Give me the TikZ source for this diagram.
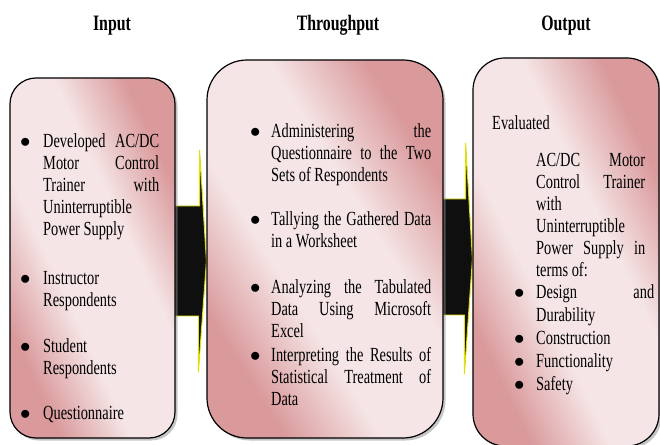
\documentclass[tikz,border=0pt]{standalone}
\usepackage{fontspec}
\setmainfont{Liberation Serif}[FakeStretch=0.72]
\usepackage{xcolor}
\usetikzlibrary{shadows,backgrounds}
\definecolor{boxlight}{RGB}{245,229,230}
\definecolor{boxdark}{RGB}{218,154,156}
\definecolor{arrowfill}{RGB}{15,15,15}
\definecolor{arrowline}{RGB}{225,225,0}
\pgfdeclareverticalshading{boxshade}{100bp}{color(0bp)=(boxdark); color(27bp)=(boxdark);
  color(41bp)=(boxlight); color(59bp)=(boxlight); color(73bp)=(boxdark); color(100bp)=(boxdark)}
\newcommand{\bitem}[1][22pt]{\hangindent=#1\noindent\makebox[#1][l]{$\bullet$}}

\begin{document}
\begin{tikzpicture}[x=1pt, y=1pt,
      box/.style={draw=black, line width=1.2pt, inner sep=0pt, shade, shading=boxshade,
        drop shadow={shadow xshift=2.5pt, shadow yshift=-2.5pt, fill=black!45}},
      head/.style={font=\fontsize{22}{24}\selectfont\bfseries, inner sep=0pt, anchor=base},
      lbl/.style={font=\fontsize{20}{22}\selectfont, inner sep=0pt, anchor=base west},
      txt/.style={font=\fontsize{20}{22}\selectfont, inner sep=0pt, anchor=base west,
        text width=#1, align=justify},
      flowarrow/.style={fill=arrowfill, draw=arrowline, line width=0.9pt, line join=miter}]
      \useasboundingbox (0,0) rectangle (660,444);

      \node[head] (inhead) at (112,413) {Input};
      \node[head] (thruhead) at (338,413) {Throughput};
      \node[head] (outhead) at (566,413) {Output};

      \node[box, shading angle=-65, minimum width=165, minimum height=360, rounded corners=26] (inbox) at (92.5,186) {};
      \node[box, shading angle=-58, minimum width=236, minimum height=378, rounded corners=40] (thrubox) at (325,195) {};
      \node[box, shading angle=-64, minimum width=186, minimum height=388, rounded corners=32] (outbox) at (566,192) {};

      \begin{scope}[on background layer]
        \draw[flowarrow] ([shift={(-1,52)}]inbox.east) -- ++(25,0) -- ++(0,56)
          -- ([yshift=-12]thrubox.west) -- ++(-8,-111) -- ++(0,56) -- ++(-25,0) -- cycle;
        \draw[flowarrow] ([shift={(-1,50)}]thrubox.east) -- ++(23,0) -- ++(0,56)
          -- ([yshift=-7]outbox.west) -- ++(-8,-115) -- ++(0,59) -- ++(-23,0) -- cycle;
      \end{scope}

      \node[txt=139pt] (in1) at (20,296) {\bitem[23pt]Developed AC/DC\linebreak Motor Control\linebreak
        Trainer with\linebreak Uninterruptible\linebreak Power Supply\par};
      \node[txt=139pt] (in2) at (20,159) {\bitem[23pt]Instructor\newline Respondents\par};
      \node[txt=139pt] (in3) at (20,92) {\bitem[23pt]Student\newline Respondents\par};
      \node[txt=139pt] (in4) at (20,25) {\bitem[23pt]Questionnaire\par};

      \node[txt=181pt] (thru1) at (250,306) {\bitem[21pt]Administering the\linebreak
        Questionnaire to the Two\linebreak Sets of Respondents\par};
      \node[txt=181pt] (thru2) at (250,218) {\bitem[21pt]Tallying the Gathered Data\linebreak in a Worksheet\par};
      \node[txt=181pt] (thru3) at (250,150) {\bitem[21pt]Analyzing the Tabulated\linebreak
        Data Using Microsoft\linebreak Excel\par};
      \node[txt=181pt] (thru4) at (250,83) {\bitem[21pt]Interpreting the Results of\linebreak
        Statistical Treatment of\linebreak Data\par};

      \node[lbl] (outlead) at (492,314) {Evaluated};
      \node[txt=109pt] (outtext) at (536,277) {\noindent AC/DC Motor\linebreak Control Trainer\linebreak
        with\linebreak Uninterruptible\linebreak Power Supply in\linebreak terms of:\par};
      \node[txt=140pt, font=\fontsize{20}{22.8}\selectfont] (outlist) at (514,145) {\bitem Design and\linebreak
        Durability\par \bitem Construction\par \bitem Functionality\par \bitem Safety\par};
\end{tikzpicture}
\end{document}
